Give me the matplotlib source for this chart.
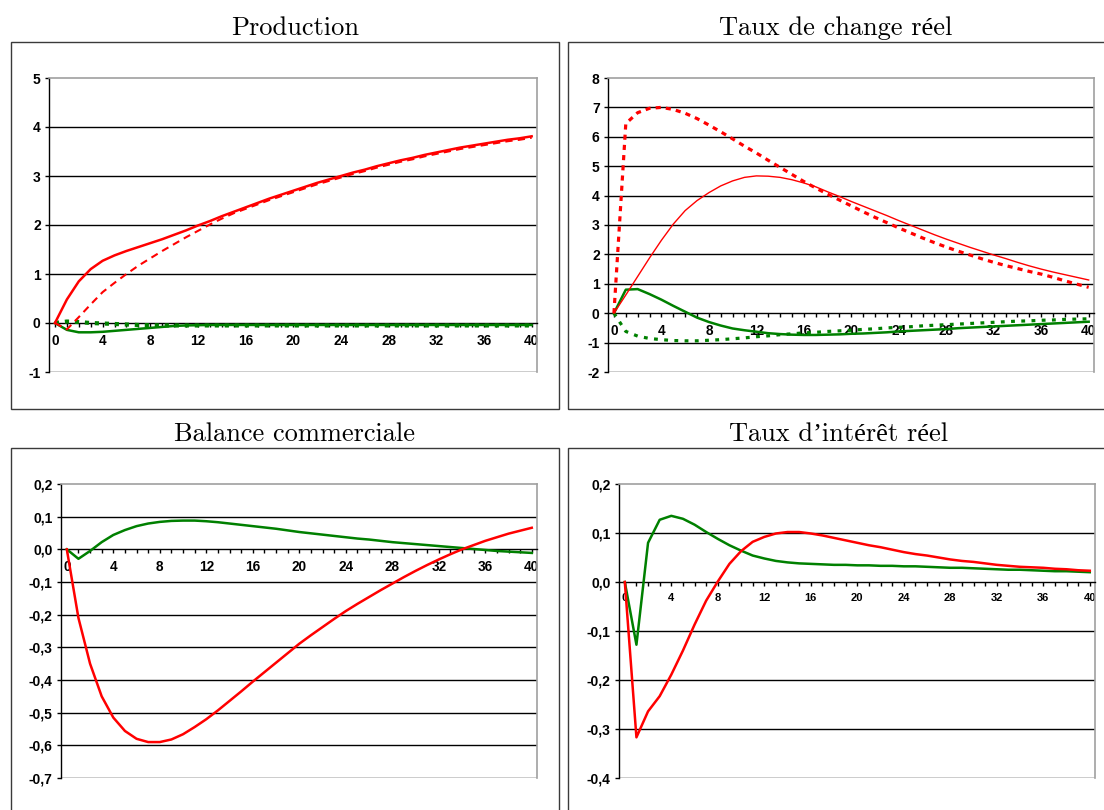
import matplotlib
matplotlib.use("Agg")
import matplotlib.pyplot as plt
from matplotlib.patches import Rectangle
import numpy as np

# ---------------- data ----------------
periods = list(range(41))
x_tick_values = [0, 4, 8, 12, 16, 20, 24, 28, 32, 36, 40]
x_tick_labels = ["0", "4", "8", "12", "16", "20", "24", "28", "32", "36", "40"]

titles = ["Production", "Taux de change réel", "Balance commerciale", "Taux d’intérêt réel"]

# Production
prod_red_solid = [0, 0.48, 0.85, 1.10, 1.27, 1.38, 1.47, 1.55, 1.63, 1.71, 1.80,
                  1.89, 1.99, 2.08, 2.18, 2.27, 2.36, 2.45, 2.54, 2.62, 2.70,
                  2.78, 2.86, 2.93, 3.00, 3.07, 3.13, 3.20, 3.26, 3.32, 3.37,
                  3.43, 3.48, 3.53, 3.58, 3.62, 3.66, 3.70, 3.74, 3.77, 3.81]
prod_red_dash = [0, -0.13, 0.12, 0.38, 0.63, 0.82, 1.00, 1.17, 1.32, 1.47, 1.61,
                 1.75, 1.88, 2.01, 2.13, 2.24, 2.33, 2.42, 2.51, 2.59, 2.67,
                 2.75, 2.83, 2.90, 2.97, 3.04, 3.10, 3.17, 3.23, 3.29, 3.34,
                 3.40, 3.45, 3.50, 3.55, 3.59, 3.63, 3.67, 3.71, 3.74, 3.78]
prod_green_solid = [0, -0.14, -0.19, -0.19, -0.18, -0.16, -0.14, -0.12, -0.10, -0.08, -0.06,
                    -0.05, -0.045, -0.04, -0.04, -0.04, -0.04, -0.04, -0.04, -0.04, -0.04,
                    -0.04, -0.04, -0.04, -0.04, -0.04, -0.04, -0.04, -0.04, -0.04, -0.04,
                    -0.04, -0.04, -0.04, -0.04, -0.04, -0.04, -0.04, -0.04, -0.04, -0.04]
prod_green_dash = [0, 0.03, 0.02, 0.0, -0.01, -0.02, -0.03, -0.04, -0.045, -0.05, -0.05,
                   -0.05, -0.05, -0.05, -0.05, -0.05, -0.05, -0.05, -0.05, -0.05, -0.05,
                   -0.05, -0.05, -0.05, -0.05, -0.05, -0.05, -0.05, -0.05, -0.05, -0.05,
                   -0.05, -0.05, -0.05, -0.05, -0.05, -0.05, -0.05, -0.05, -0.05, -0.05]

# Taux de change reel
tcr_red_dash = [0, 6.45, 6.82, 6.97, 7.00, 6.93, 6.80, 6.62, 6.40, 6.17, 5.93,
                5.68, 5.45, 5.20, 4.96, 4.72, 4.48, 4.26, 4.05, 3.85, 3.65,
                3.45, 3.26, 3.08, 2.90, 2.73, 2.56, 2.40, 2.25, 2.11, 1.98,
                1.85, 1.73, 1.62, 1.52, 1.42, 1.33, 1.22, 1.10, 0.99, 0.88]
tcr_red_solid = [0, 0.62, 1.25, 1.88, 2.48, 3.03, 3.49, 3.83, 4.10, 4.33, 4.50,
                 4.62, 4.67, 4.66, 4.62, 4.54, 4.43, 4.30, 4.13, 3.97, 3.80,
                 3.64, 3.48, 3.32, 3.15, 2.99, 2.83, 2.67, 2.52, 2.38, 2.24,
                 2.11, 1.98, 1.86, 1.73, 1.61, 1.50, 1.40, 1.31, 1.22, 1.13]
tcr_green_solid = [0, 0.80, 0.82, 0.65, 0.46, 0.25, 0.05, -0.15, -0.30, -0.42, -0.52,
                   -0.58, -0.63, -0.68, -0.71, -0.73, -0.74, -0.74, -0.73, -0.72, -0.70,
                   -0.69, -0.67, -0.65, -0.62, -0.60, -0.58, -0.56, -0.54, -0.51, -0.49,
                   -0.47, -0.45, -0.43, -0.41, -0.39, -0.37, -0.35, -0.33, -0.31, -0.29]
tcr_green_dash = [0, -0.62, -0.78, -0.86, -0.90, -0.93, -0.94, -0.94, -0.92, -0.90, -0.87,
                  -0.84, -0.80, -0.77, -0.73, -0.70, -0.67, -0.65, -0.62, -0.60, -0.58,
                  -0.55, -0.53, -0.50, -0.48, -0.46, -0.43, -0.41, -0.39, -0.37, -0.35,
                  -0.33, -0.31, -0.29, -0.27, -0.26, -0.24, -0.23, -0.21, -0.20, -0.19]

# Balance commerciale
bc_red = [0, -0.21, -0.35, -0.45, -0.515, -0.556, -0.58, -0.59, -0.59, -0.582, -0.566,
          -0.544, -0.52, -0.493, -0.464, -0.435, -0.405, -0.376, -0.347, -0.318, -0.289,
          -0.263, -0.238, -0.213, -0.189, -0.167, -0.146, -0.125, -0.105, -0.085, -0.066,
          -0.048, -0.031, -0.015, 0.0, 0.013, 0.026, 0.037, 0.048, 0.057, 0.066]
bc_green = [0, -0.029, -0.005, 0.022, 0.044, 0.059, 0.071, 0.079, 0.084, 0.087, 0.088,
            0.088, 0.086, 0.083, 0.079, 0.075, 0.071, 0.067, 0.063, 0.058, 0.053,
            0.049, 0.045, 0.041, 0.037, 0.033, 0.030, 0.026, 0.022, 0.019, 0.016,
            0.013, 0.010, 0.007, 0.004, 0.001, -0.002, -0.005, -0.007, -0.009, -0.011]

# Taux d'interet reel
tir_green = [0, -0.128, 0.08, 0.127, 0.135, 0.129, 0.117, 0.102, 0.088, 0.075, 0.064,
             0.054, 0.048, 0.043, 0.040, 0.038, 0.037, 0.036, 0.035, 0.035, 0.034,
             0.034, 0.033, 0.033, 0.032, 0.032, 0.031, 0.030, 0.029, 0.029, 0.028,
             0.027, 0.026, 0.025, 0.025, 0.024, 0.023, 0.022, 0.022, 0.021, 0.020]
tir_red = [0, -0.317, -0.264, -0.233, -0.189, -0.14, -0.087, -0.038, 0.001, 0.037, 0.063,
           0.082, 0.092, 0.099, 0.102, 0.102, 0.099, 0.095, 0.090, 0.085, 0.080,
           0.075, 0.071, 0.066, 0.061, 0.057, 0.054, 0.050, 0.046, 0.043, 0.041,
           0.038, 0.035, 0.033, 0.031, 0.030, 0.029, 0.027, 0.026, 0.024, 0.023]

yticks_prod = [-1, 0, 1, 2, 3, 4, 5]
ylabels_prod = ["-1", "0", "1", "2", "3", "4", "5"]
yticks_tcr = [-2, -1, 0, 1, 2, 3, 4, 5, 6, 7, 8]
ylabels_tcr = ["-2", "-1", "0", "1", "2", "3", "4", "5", "6", "7", "8"]
yticks_bc = [-0.7, -0.6, -0.5, -0.4, -0.3, -0.2, -0.1, 0.0, 0.1, 0.2]
ylabels_bc = ["-0,7", "-0,6", "-0,5", "-0,4", "-0,3", "-0,2", "-0,1", "0,0", "0,1", "0,2"]
yticks_tir = [-0.4, -0.3, -0.2, -0.1, 0.0, 0.1, 0.2]
ylabels_tir = ["-0,4", "-0,3", "-0,2", "-0,1", "0,0", "0,1", "0,2"]

# ---------------- figure ----------------
W, H = 1104, 810
fig = plt.figure(figsize=(W / 100, H / 100), dpi=100)
fig.patch.set_facecolor("white")

RED = "#ff0000"
GREEN = "#008000"
TICKFONT = "Liberation Sans"


def fig_rect(l, t, r, b):
    return [l / W, 1 - b / H, (r - l) / W, (b - t) / H]


# panel boxes
for (l, t, r, b) in [(11, 42, 559, 409), (568, 42, 1115, 409),
                     (11, 448, 559, 830), (568, 448, 1115, 830)]:
    fig.patches.append(Rectangle((l / W, 1 - b / H), (r - l) / W, (b - t) / H,
                                 transform=fig.transFigure, fill=False,
                                 edgecolor="#3a3a3a", linewidth=1.0))

# titles
title_pos = [(295, 35), (836, 35), (295, 441), (839, 441)]
for txt, (xc, yb) in zip(titles, title_pos):
    fig.text(xc / W, 1 - yb / H, txt, ha="center", va="baseline",
             fontsize=19, family=["cmr10", "Liberation Serif"])


def setup(ax, yticks, ylabels, xlab_size=9.8):
    ax.set_xlim(-0.5, 40.45)
    ax.set_ylim(yticks[0], yticks[-1])
    ax.set_yticks(yticks)
    ax.set_yticklabels(ylabels)
    ax.set_xticks(x_tick_values)
    ax.set_xticklabels(x_tick_labels)
    ax.set_xticks(periods, minor=True)
    for yv in yticks[:-1]:
        if yv != 0:
            ax.axhline(yv, color="black", lw=1.0, zorder=1)
    ax.spines["bottom"].set_position(("data", 0))
    ax.spines["bottom"].set_color("black")
    ax.spines["bottom"].set_linewidth(1.0)
    ax.spines["left"].set_color("black")
    ax.spines["left"].set_linewidth(1.0)
    ax.spines["top"].set_color("#a0a0a0")
    ax.spines["top"].set_linewidth(1.2)
    ax.spines["right"].set_color("#a0a0a0")
    ax.spines["right"].set_linewidth(1.2)
    ax.tick_params(axis="y", direction="out", length=3, width=1, pad=3,
                   labelsize=10, colors="black")
    ax.tick_params(axis="x", which="both", direction="out", length=3, width=1,
                   pad=5, labelsize=xlab_size)
    for lab in ax.get_yticklabels() + ax.get_xticklabels():
        lab.set_fontfamily(TICKFONT)
        lab.set_fontweight("bold")


# Production
ax1 = fig.add_axes(fig_rect(49, 78, 537, 372))
setup(ax1, yticks_prod, ylabels_prod)
ax1.plot(periods, prod_green_dash, color=GREEN, lw=3.0, ls=(0, (1.0, 1.4)), zorder=3)
ax1.plot(periods, prod_green_solid, color=GREEN, lw=1.8, zorder=3)
ax1.plot(periods, prod_red_dash, color=RED, lw=1.5, ls=(0, (3.5, 2.5)), zorder=3)
ax1.plot(periods, prod_red_solid, color=RED, lw=1.8, zorder=3)

# Taux de change reel
ax2 = fig.add_axes(fig_rect(608, 78, 1094, 372))
setup(ax2, yticks_tcr, ylabels_tcr)
ax2.plot(periods, tcr_green_dash, color=GREEN, lw=2.3, ls=(0, (1.2, 2.0)), zorder=3)
ax2.plot(periods, tcr_green_solid, color=GREEN, lw=1.8, zorder=3)
ax2.plot(periods, tcr_red_dash, color=RED, lw=2.3, ls=(0, (1.6, 1.6)), zorder=3)
ax2.plot(periods, tcr_red_solid, color=RED, lw=1.0, zorder=3)

# Balance commerciale
ax3 = fig.add_axes(fig_rect(61, 484, 537, 778))
setup(ax3, yticks_bc, ylabels_bc)
ax3.plot(periods, bc_green, color=GREEN, lw=1.8, zorder=3)
ax3.plot(periods, bc_red, color=RED, lw=1.8, zorder=3)

# Taux d'interet reel
ax4 = fig.add_axes(fig_rect(619, 484, 1095, 778))
setup(ax4, yticks_tir, ylabels_tir, xlab_size=8)
ax4.plot(periods, tir_green, color=GREEN, lw=1.8, zorder=3)
ax4.plot(periods, tir_red, color=RED, lw=1.8, zorder=3)

fig.savefig("out.png", dpi=100)
